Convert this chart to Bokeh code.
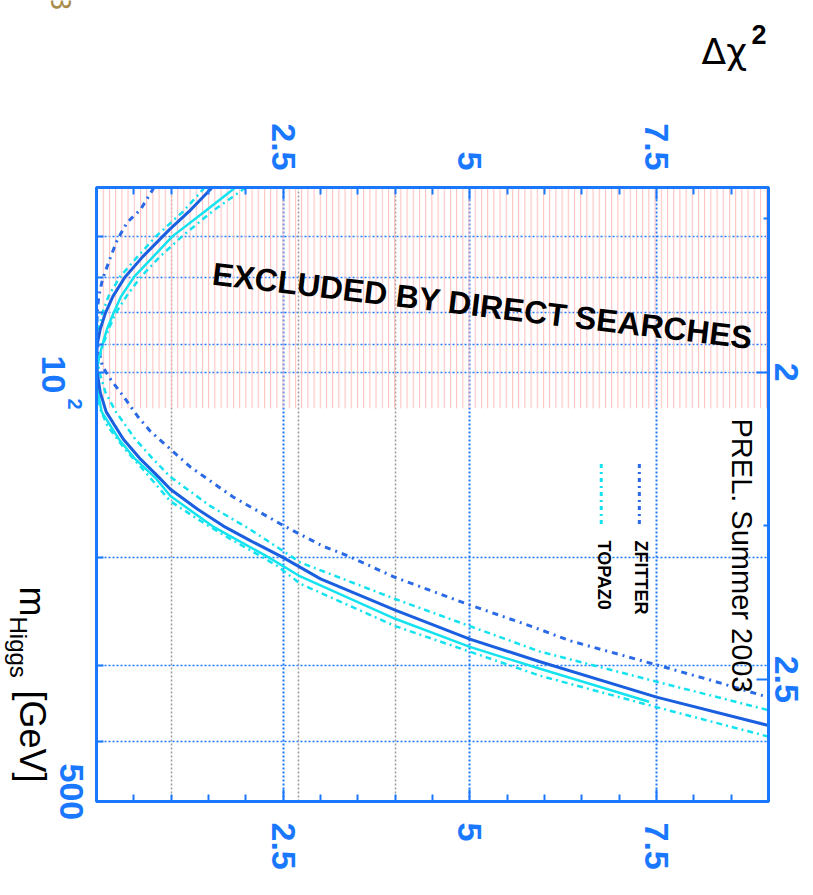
import math
from bokeh.plotting import figure
from bokeh.layouts import column, row
from bokeh.models import Range1d, LinearAxis, FixedTicker, Grid, Label, LinearScale
from bokeh.embed import file_html
from bokeh.resources import INLINE

# ---------------- data ----------------
# main fit (dark blue solid)
mh_fit = [50, 54.7, 58.5, 64.8, 70, 75.2, 80, 85.1, 90, 95.2, 100, 107.8, 116, 128.5,
          138.5, 147.6, 155, 167, 178, 188, 200, 217, 244, 272, 296, 338, 376]
chi_fit = [1.55, 1.24, 0.98, 0.62, 0.38, 0.22, 0.12, 0.05, 0.01, 0.0, 0.01, 0.05, 0.13, 0.36,
           0.59, 0.82, 0.99, 1.35, 1.70, 2.06, 2.49, 3.0, 4.0, 5.0, 5.94, 7.5, 9.0]

# cyan solid
mh_cyan = [50, 54.7, 60, 64.8, 70, 75.2, 80, 85.1, 90, 95.2, 100, 107.8, 116, 128.5,
           138.5, 149, 159, 178, 200, 215, 252, 280, 304, 344]
chi_cyan = [1.86, 1.45, 1.02, 0.76, 0.50, 0.33, 0.23, 0.14, 0.08, 0.03, 0.0, 0.02, 0.07, 0.30,
            0.52, 0.80, 0.99, 1.55, 2.30, 2.73, 4.0, 5.0, 5.94, 7.4]

# ZFITTER (blue dash-dot)
mh_zfitter = [50, 54.3, 57.0, 60.8, 64.8, 70.6, 75.2, 80, 88.4, 97.8, 102.7, 109.4, 117.9,
              124.7, 133.4, 142.7, 159.6, 177.3, 191.9, 199.1, 215.5, 238.4, 259.6, 273.6,
              299.5, 315.8, 336.6]
chi_zfitter = [0.77, 0.59, 0.41, 0.28, 0.19, 0.08, 0.03, 0.01, 0.0, 0.08, 0.19, 0.36, 0.55,
               0.72, 0.99, 1.26, 1.83, 2.49, 3.03, 3.37, 3.99, 4.96, 5.84, 6.34, 7.5, 8.17, 8.94]

# TOPAZ0 (cyan dash-dot, two curves)
mh_topaz_a = [50, 54.7, 60, 64.8, 70, 75.2, 80, 85.1, 90, 95.2, 100, 107.8, 116, 128.5,
              138.5, 148, 165, 180, 204, 234, 285, 319, 355]
chi_topaz_a = [1.45, 1.16, 0.80, 0.55, 0.31, 0.16, 0.08, 0.03, 0.0, 0.01, 0.04, 0.12, 0.26, 0.52,
               0.76, 0.99, 1.52, 2.05, 2.73, 4.0, 5.94, 7.5, 9.0]
mh_topaz_b = [50, 54.7, 60, 64.8, 70, 75.2, 80, 85.1, 90, 95.2, 100, 107.8, 114.8, 122.4,
              133.4, 143.8, 162.2, 174.5, 186.7, 199, 206.7, 221, 259, 312, 351, 392]
chi_topaz_b = [2.0, 1.55, 1.15, 0.85, 0.59, 0.40, 0.26, 0.16, 0.09, 0.03, 0.0, 0.01, 0.05, 0.15,
               0.38, 0.62, 0.99, 1.39, 1.79, 2.19, 2.42, 2.73, 4.0, 5.94, 7.5, 9.0]

excluded_mh = 114.4           # LEP direct-search limit
chi_ticks = [2.5, 5, 7.5]
chi_minor = [0.5, 1, 1.5, 2, 3, 3.5, 4, 4.5, 5.5, 6, 6.5, 7, 8, 8.5]
chi_cl_lines = [1, 2.71, 4]
mh_ticks = [100, 500]
mh_minor = [60, 70, 80, 90, 200, 300, 400]
mh_grid = [60, 70, 80, 90, 100, 200, 300, 400]
log_ticks = [2, 2.5]
log_minor = [1.75, 2.25, 2.75]
legend_names = ["ZFITTER", "TOPAZ0"]

# ---------------- styles ----------------
AX = "#1a78ff"
DARK = "#1a5fe0"
ZF = "#2a6ae6"
CYAN = "#14e3ef"
HATCH = "#ffbcbc"
FONT = "Liberation Sans"
TOP_H = 80      # height of the strip above the plot
LEFT_W = 93     # width of the strip left of the plot
W, H = 813, 895


def no_align(f):
    try:
        f.frame_align = False
    except Exception:
        pass


def blank(width, height, xr, yr):
    f = figure(frame_width=width, frame_height=height, output_backend="svg",
               toolbar_location=None, x_range=xr, y_range=yr,
               x_axis_location=None, y_axis_location=None,
               min_border=0, title_location=None)
    f.grid.visible = False
    f.outline_line_color = None
    no_align(f)
    return f


# ---------------- main plot ----------------
p = figure(width=W - LEFT_W, height=H - TOP_H, output_backend="svg", toolbar_location=None,
           x_range=Range1d(0, 9), y_range=Range1d(500, 50), y_axis_type="log",
           x_axis_location=None, y_axis_location=None, title_location=None,
           min_border_left=3, min_border_right=45, min_border_top=187 - TOP_H,
           min_border_bottom=H - 801)
no_align(p)
p.grid.visible = False
p.outline_line_color = AX
p.outline_line_width = 3

p.extra_y_ranges = {"lg": Range1d(math.log10(500), math.log10(50))}
p.extra_y_scales = {"lg": LinearScale()}


def style_axis(ax, standoff, orient=-math.pi / 2):
    ax.axis_line_color = AX
    ax.axis_line_width = 3
    ax.major_tick_line_color = AX
    ax.major_tick_line_width = 2
    ax.major_tick_in = 12
    ax.major_tick_out = 0
    ax.minor_tick_line_color = AX
    ax.minor_tick_line_width = 2
    ax.minor_tick_in = 7
    ax.minor_tick_out = 0
    ax.major_label_text_color = AX
    ax.major_label_text_font = FONT
    ax.major_label_text_font_size = "34px"
    ax.major_label_text_font_style = "bold"
    ax.major_label_orientation = orient
    ax.major_label_standoff = standoff


chi_labels = {t: ("%g" % t) for t in chi_ticks}
for loc, so in (("below", 21), ("above", 17)):
    ax = LinearAxis(ticker=FixedTicker(ticks=chi_ticks, minor_ticks=chi_minor),
                    major_label_overrides=chi_labels)
    style_axis(ax, so)
    p.add_layout(ax, loc)

# left axis: ticks only (its labels are drawn in the strip to the left)
axl = LinearAxis(ticker=FixedTicker(ticks=mh_ticks, minor_ticks=mh_minor),
                 major_label_overrides={t: "" for t in mh_ticks})
style_axis(axl, 0)
axl.major_label_text_font_size = "0px"
axl.major_tick_in = 8
p.add_layout(axl, "left")

axr = LinearAxis(y_range_name="lg", ticker=FixedTicker(ticks=log_ticks, minor_ticks=log_minor),
                 major_label_overrides={t: ("%g" % t) for t in log_ticks})
style_axis(axr, 6, "parallel")
axr.minor_tick_in = 5
p.add_layout(axr, "right")

# grids
p.add_layout(Grid(dimension=1, ticker=FixedTicker(ticks=mh_grid), grid_line_color=AX,
                  grid_line_width=1.5, grid_line_dash="2 2"))
p.add_layout(Grid(dimension=0, ticker=FixedTicker(ticks=chi_ticks), grid_line_color=AX,
                  grid_line_width=2, grid_line_dash="2 2"))
p.add_layout(Grid(dimension=0, ticker=FixedTicker(ticks=chi_cl_lines), grid_line_color="#9a9a9a",
                  grid_line_width=1.5, grid_line_dash="2 2"))

# excluded region hatching
p.quad(left=0, right=9, bottom=50, top=excluded_mh, fill_alpha=0, line_alpha=0,
       hatch_pattern="vertical_line", hatch_color=HATCH, hatch_weight=1, hatch_scale=6.2)

# curves
p.line(chi_topaz_a, mh_topaz_a, line_color=CYAN, line_width=2.5, line_dash="6 4 2 4")
p.line(chi_topaz_b, mh_topaz_b, line_color=CYAN, line_width=2.5, line_dash="6 4 2 4")
p.line(chi_zfitter, mh_zfitter, line_color=ZF, line_width=3, line_dash="6 5 2 5")
p.line(chi_cyan, mh_cyan, line_color=CYAN, line_width=2.5)
p.line(chi_fit, mh_fit, line_color=DARK, line_width=3)

# legend keys (vertical, rotated layout)
p.segment(x0=[7.27], y0=[141], x1=[7.27], y1=[178], line_color=ZF, line_width=3, line_dash="4 4 2 4")
p.segment(x0=[6.76], y0=[141], x1=[6.76], y1=[178], line_color=CYAN, line_width=3, line_dash="4 4 2 4")


def lab(fig, text, x, y, size, angle=-math.pi / 2, style="normal", color="black",
        units="screen", font=FONT):
    fig.add_layout(Label(x=x, y=y, x_units=units, y_units=units, text=text, angle=angle,
                         text_font=font, text_font_size=size, text_font_style=style,
                         text_color=color, text_align="left", text_baseline="middle"))


# texts inside the frame (screen units from the frame's bottom-left corner)
lab(p, legend_names[0], 544, 261, "18px", style="bold")
lab(p, legend_names[1], 507, 261, "18px", style="bold")
lab(p, "PREL. Summer 2003", 645, 383, "29px")
lab(p, "EXCLUDED BY DIRECT SEARCHES", 116, 528, "32px", angle=-0.119, style="bold")

# ---------------- strip above (page pixel coordinates) ----------------
top = blank(W, TOP_H, Range1d(0, W), Range1d(TOP_H, 0))
lab(top, "3", 60, -7, "30px", color="#a88c4c", units="data")
lab(top, "\u0394\u03c7", 701, 51, "36px", angle=0, units="data", font="DejaVu Sans")
lab(top, "2", 751, 34, "27px", angle=0, style="bold", units="data")

# ---------------- strip left (page pixel coordinates) ----------------
left = blank(LEFT_W, H - TOP_H, Range1d(0, LEFT_W), Range1d(H, TOP_H))
lab(left, "10", 52.5, 355, "34px", style="bold", color=AX, units="data")
lab(left, "2", 74, 398, "20px", style="bold", color=AX, units="data")
lab(left, "500", 71, 763, "34px", style="bold", color=AX, units="data")
lab(left, "m", 32, 586, "36px", units="data")
lab(left, "Higgs", 18, 616, "24px", units="data")
lab(left, "[GeV]", 32, 690, "36px", units="data")

layout = column(top, row(left, p, spacing=0), spacing=0)
open("out.html", "w").write(file_html(layout, INLINE))
